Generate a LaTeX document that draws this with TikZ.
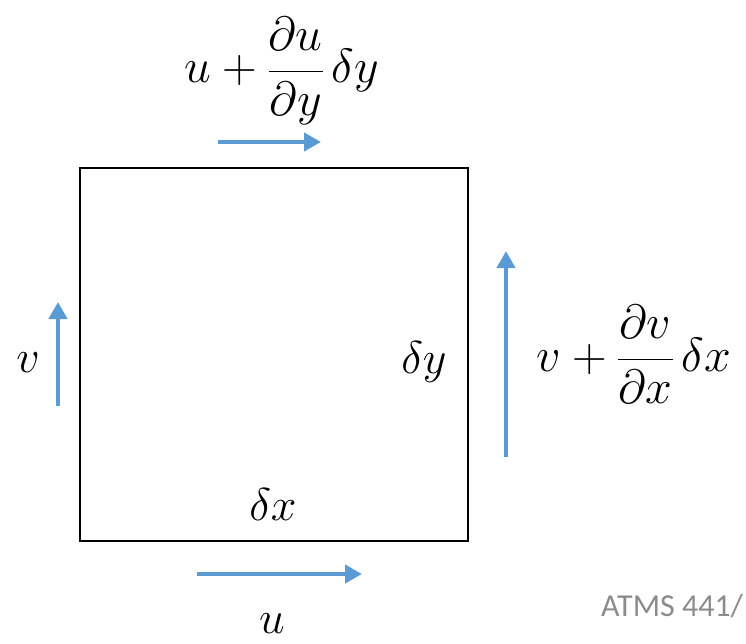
\RequirePackage{fix-cm}
\documentclass[tikz,border=0pt]{standalone}
\usepackage{fontspec}
\newfontfamily\carl{Carlito}
\usetikzlibrary{arrows.meta}
\definecolor{arrowblue}{HTML}{5B9BD5}
\definecolor{notegray}{HTML}{8C8C8C}
\tikzset{
  flow/.style={draw=arrowblue, line width=4.5pt, -{Triangle[width=18pt,length=17pt]}},
  lbl/.style={inner sep=0pt, font=\fontsize{46}{54}\selectfont},
  biglbl/.style={inner sep=0pt, font=\fontsize{48}{56}\selectfont},
  box/.style={draw=black, line width=2pt}
}
\begin{document}
\begin{tikzpicture}[x=1pt,y=-1pt]
\useasboundingbox (0,0) rectangle (746,644);
\clip (0,0) rectangle (746,644);
% square
\coordinate (tl) at (80,168);
\coordinate (br) at (468,541);
\draw[box] (tl) rectangle (br);
% arrows
\coordinate (ta1) at (218,142); \coordinate (ta2) at (321,142);
\coordinate (ba1) at (197,574); \coordinate (ba2) at (362,574);
\coordinate (la1) at (58,406); \coordinate (la2) at (58,302);
\coordinate (ra1) at (506,457); \coordinate (ra2) at (506,251);
\draw[flow] (ta1) -- (ta2);
\draw[flow] (ba1) -- (ba2);
\draw[flow] (la1) -- (la2);
\draw[flow] (ra1) -- (ra2);
% labels
\node[biglbl, anchor=base] (top) at (282,83) {$\displaystyle u+\frac{\partial u}{\partial y}\,\delta y$};
\node[biglbl, anchor=base] (right) at (634,371) {$\displaystyle v+\frac{\partial v}{\partial x}\,\delta x$};
\node[lbl, anchor=base] (lv) at (28,372) {$v$};
\node[lbl, anchor=base] (dy) at (424,373) {$\delta y$};
\node[lbl, anchor=base] (dx) at (273,520) {$\delta x$};
\node[lbl, anchor=base] (bu) at (272,633) {$u$};
\node[inner sep=0pt, anchor=base west, text=notegray, font=\carl\fontsize{32}{38}\selectfont] (note) at (601,616) {ATMS 441/};
\end{tikzpicture}
\end{document}
